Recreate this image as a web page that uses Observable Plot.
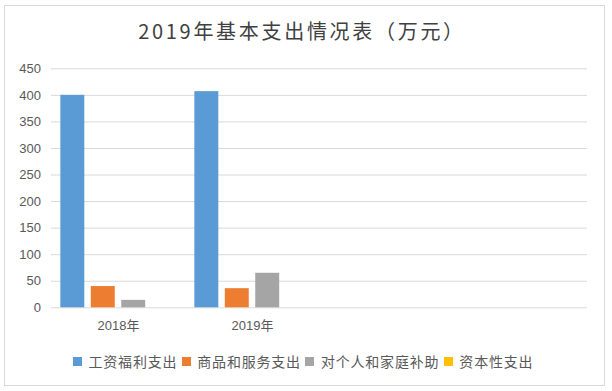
<!DOCTYPE html>
<html>
<head>
<meta charset="utf-8">
<script src="https://cdn.jsdelivr.net/npm/d3@7"></script>
<script src="https://cdn.jsdelivr.net/npm/@observablehq/plot@0.6"></script>
<style>
  html, body { margin: 0; padding: 0; background: #fff; }
  #wrap { position: relative; width: 612px; height: 391px; overflow: hidden; font-family: "Noto Sans CJK SC", "Liberation Sans", sans-serif; color: #595959; }
  #frame { position: absolute; left: 4px; top: 5px; width: 599px; height: 379px; border: 1px solid #d9d9d9; }
  #title { position: absolute; left: 0; width: 604px; top: 15px; text-align: center; font-size: 20px; letter-spacing: 2.7px; line-height: 32px; color: #404040; white-space: nowrap; }
  #chart { position: absolute; left: 0; top: 0; }
  #legend { position: absolute; left: 73px; top: 350px; display: flex; align-items: center; font-size: 14px; letter-spacing: 0.8px; line-height: 22px; white-space: nowrap; }
  #legend .sw { width: 9px; height: 9px; margin-right: 6.5px; margin-top: 1px; }
  #legend .lb { margin-right: 4.5px; }
</style>
</head>
<body>
<div id="wrap">
  <div id="frame"></div>
  <div id="title"></div>
  <div id="chart"></div>
  <div id="legend"></div>
</div>
<script>
const titleText = "2019年基本支出情况表（万元）";
const categories = ["2018年", "2019年", " ", "  "];
const series = ["工资福利支出", "商品和服务支出", "对个人和家庭补助", "资本性支出"];
const values2018 = [400, 40, 14, 0];
const values2019 = [407, 36, 65, 0];
const yTicks = [0, 50, 100, 150, 200, 250, 300, 350, 400, 450];
const colors = ["#5B9BD5", "#ED7D31", "#A5A5A5", "#FFC000"];

const data = [];
series.forEach((s, i) => data.push({category: categories[0], series: s, value: values2018[i]}));
series.forEach((s, i) => data.push({category: categories[1], series: s, value: values2019[i]}));

const grid = [];
categories.forEach(c => yTicks.forEach(t => grid.push({category: c, tick: t})));

document.getElementById("title").textContent = titleText;

const plot = Plot.plot({
  width: 612,
  height: 345,
  marginLeft: 50,
  marginRight: 25,
  marginTop: 68.3,
  marginBottom: 37.7,
  style: {color: "#595959", fontFamily: "'Liberation Sans', 'Noto Sans CJK SC', sans-serif", fontSize: "13px", background: "transparent"},
  fx: {domain: categories, paddingInner: 0, paddingOuter: 0, label: null},
  x: {domain: series, paddingInner: 0.213, paddingOuter: 0.307, round: false, axis: null},
  y: {domain: [0, 450], label: null},
  color: {domain: series, range: colors},
  marks: [
    Plot.ruleY(grid, {fx: "category", y: "tick", stroke: "#d9d9d9", strokeWidth: 1}),
    Plot.barY(data, {fx: "category", x: "series", y: "value", fill: "series"}),
    Plot.axisY({ticks: yTicks, tickSize: 0, tickPadding: 10.5, fontSize: 13, label: null}),
    Plot.axisFx({anchor: "bottom", tickSize: 0, tickPadding: 13, fontSize: 13, label: null, tickFormat: d => d.trim()})
  ]
});
document.getElementById("chart").appendChild(plot);

const legend = document.getElementById("legend");
series.forEach((s, i) => {
  const sw = document.createElement("span");
  sw.className = "sw";
  sw.style.background = colors[i];
  const lb = document.createElement("span");
  lb.className = "lb";
  lb.textContent = s;
  legend.appendChild(sw);
  legend.appendChild(lb);
});
</script>
</body>
</html>
